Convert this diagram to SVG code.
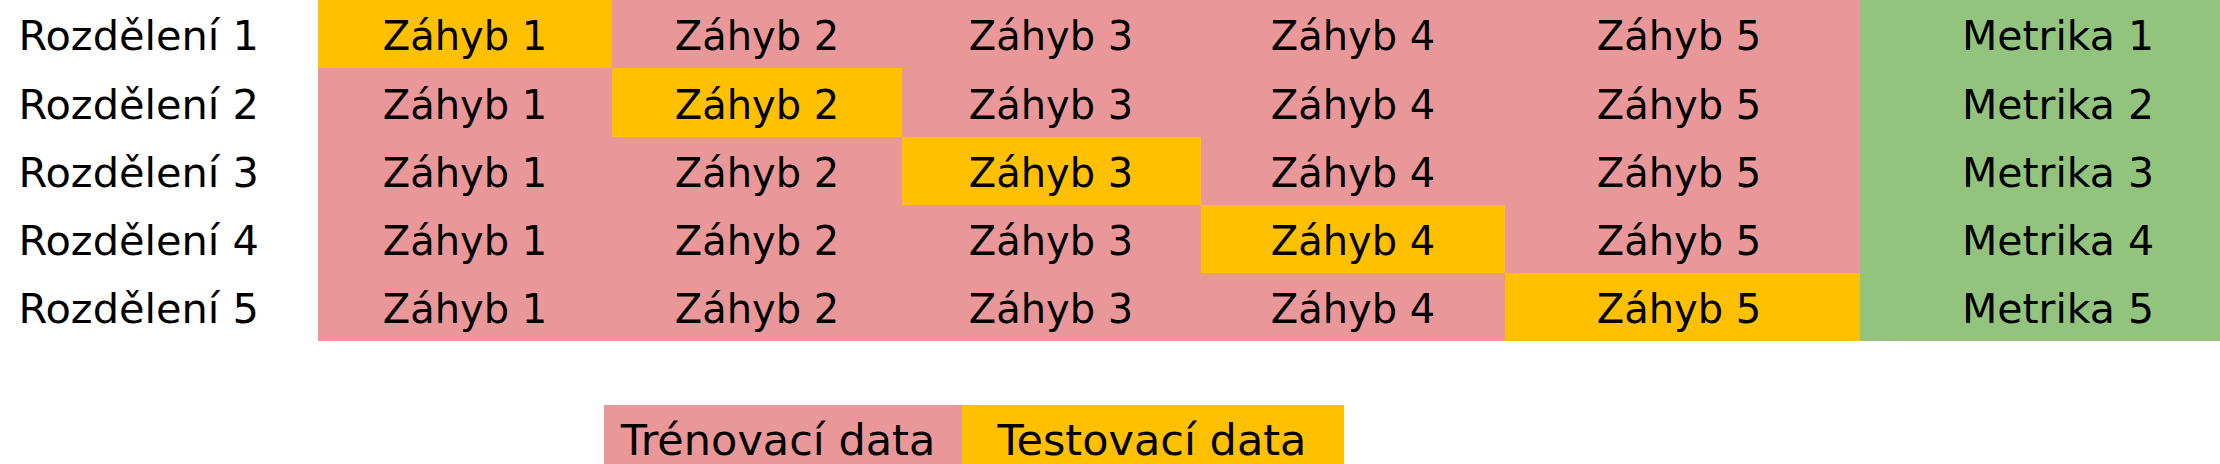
<svg xmlns="http://www.w3.org/2000/svg" width="2220" height="464" viewBox="0 0 2220 464">
<style>
text{font-family:"DejaVu Sans","Liberation Sans",sans-serif;font-size:40px;fill:#000;text-anchor:middle}
.lbl{text-anchor:end;font-size:41.5px}
.met{font-size:41px}
.lg{font-size:43px}
.tr{fill:#EA9799}
.te{fill:#FFC000}
.me{fill:#93C47D}
</style>
<rect width="2220" height="464" fill="#fff"/>
<g id="background">
<rect class="tr" x="318" y="0" width="1542" height="341"/>
<rect class="me" x="1860" y="0" width="360" height="341"/>
</g>
<g id="row1">
<text class="lbl" x="259" y="50">Rozdělení 1</text>
<rect class="te" x="318" y="0" width="294" height="68"/>
<text x="465" y="50">Záhyb 1</text>
<text x="757" y="50">Záhyb 2</text>
<text x="1051" y="50">Záhyb 3</text>
<text x="1353" y="50">Záhyb 4</text>
<text x="1679" y="50">Záhyb 5</text>
<text class="met" x="2058" y="50">Metrika 1</text>
</g>
<g id="row2">
<text class="lbl" x="259" y="119">Rozdělení 2</text>
<rect class="te" x="612" y="68" width="290" height="69"/>
<text x="465" y="119">Záhyb 1</text>
<text x="757" y="119">Záhyb 2</text>
<text x="1051" y="119">Záhyb 3</text>
<text x="1353" y="119">Záhyb 4</text>
<text x="1679" y="119">Záhyb 5</text>
<text class="met" x="2058" y="119">Metrika 2</text>
</g>
<g id="row3">
<text class="lbl" x="259" y="187">Rozdělení 3</text>
<rect class="te" x="902" y="137" width="299" height="68"/>
<text x="465" y="187">Záhyb 1</text>
<text x="757" y="187">Záhyb 2</text>
<text x="1051" y="187">Záhyb 3</text>
<text x="1353" y="187">Záhyb 4</text>
<text x="1679" y="187">Záhyb 5</text>
<text class="met" x="2058" y="187">Metrika 3</text>
</g>
<g id="row4">
<text class="lbl" x="259" y="255">Rozdělení 4</text>
<rect class="te" x="1201" y="205" width="304" height="68"/>
<text x="465" y="255">Záhyb 1</text>
<text x="757" y="255">Záhyb 2</text>
<text x="1051" y="255">Záhyb 3</text>
<text x="1353" y="255">Záhyb 4</text>
<text x="1679" y="255">Záhyb 5</text>
<text class="met" x="2058" y="255">Metrika 4</text>
</g>
<g id="row5">
<text class="lbl" x="259" y="323">Rozdělení 5</text>
<rect class="te" x="1505" y="273" width="355" height="68"/>
<text x="465" y="323">Záhyb 1</text>
<text x="757" y="323">Záhyb 2</text>
<text x="1051" y="323">Záhyb 3</text>
<text x="1353" y="323">Záhyb 4</text>
<text x="1679" y="323">Záhyb 5</text>
<text class="met" x="2058" y="323">Metrika 5</text>
</g>
<g id="legend">
<rect class="tr" x="604" y="405" width="358" height="59"/>
<rect class="te" x="962" y="405" width="382" height="59"/>
<text class="lg" x="778" y="455">Trénovací data</text>
<text class="lg" x="1152" y="455">Testovací data</text>
</g>
<g id="connectors"/>
</svg>
